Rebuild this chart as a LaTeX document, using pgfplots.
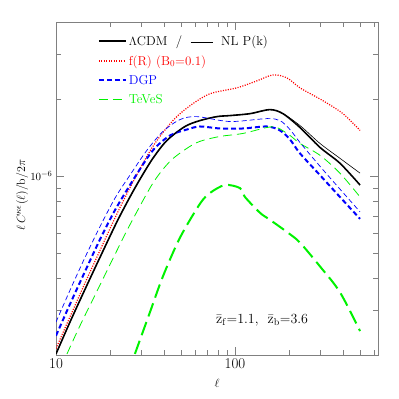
\documentclass[border=0pt]{standalone}
\usepackage{pgfplots}
\pgfplotsset{compat=1.18}
\definecolor{fr}{rgb}{1,0,0}
\definecolor{dgp}{rgb}{0,0,1}
\definecolor{tvs}{rgb}{0,0.95,0}
\begin{document}
\begin{tikzpicture}
\begin{axis}[
  scale only axis, width=322bp, height=333bp,
  xmode=log, ymode=log,
  xmin=10, xmax=630, ymin=2e-7, ymax=4e-6,
  xtick={10,100}, xticklabels={10,100},
  minor xtick={20,30,40,50,60,70,80,90,200,300,400,500,600},
  ytick={1e-6},
  minor ytick={3e-7,4e-7,5e-7,6e-7,7e-7,8e-7,9e-7,2e-6,3e-6,4e-6},
  major tick length=8bp, minor tick length=5bp,
  axis line style={black!50}, tick style={black!50},
  xticklabel style={font=\fontsize{15}{17}\selectfont},
  yticklabel style={font=\fontsize{11}{13}\selectfont},
  xlabel={$\ell$}, ylabel={$\ell\,C^{\kappa\epsilon}(\ell)/\mathrm{b}/2\pi$},
  xlabel style={at={(axis description cs:0.5,-0.085)},anchor=center,font=\fontsize{12}{14}\selectfont},
  ylabel style={at={(axis description cs:-0.105,0.48)},anchor=center,font=\fontsize{12.5}{14}\selectfont},
  legend image code/.code={\draw[#1] (0bp,0bp) -- (27bp,0bp);},
  legend cell align=left,
  legend style={at={(axis description cs:0.12,0.972)},anchor=north west,draw=none,fill=none,
    font=\fontsize{13}{15}\selectfont,row sep=4.6pt},
]
% LCDM linear (thick)
\addplot[black, line width=1.6pt, smooth] coordinates {
(10,2.02e-7) (11.97,2.69e-7) (14.52,3.61e-7) (17.6,4.81e-7) (21.9,6.63e-7)
(25.9,8.29e-7) (29.5,9.74e-7) (34.8,1.174e-6) (41.7,1.379e-6) (52.6,1.563e-6)
(63.7,1.648e-6) (79.3,1.708e-6) (93.8,1.724e-6) (121.3,1.754e-6) (156.9,1.819e-6)
(185.4,1.754e-6) (230.7,1.549e-6) (298.5,1.295e-6) (386.0,1.123e-6) (500,9.23e-7)};
\addlegendentry{$\Lambda$CDM\ \ /\ \ \rule[0.55ex]{22bp}{0.5pt}\ \ NL P(k)}
% f(R)
\addplot[fr, line width=1.2pt, dash pattern=on 1.1pt off 1.4pt, smooth] coordinates {
(10,2.12e-7) (11.97,2.82e-7) (14.52,3.82e-7) (17.6,5.12e-7) (21.9,7.12e-7)
(26.9,9.48e-7) (34.8,1.307e-6) (45.0,1.648e-6) (56.1,1.884e-6) (72.5,2.098e-6)
(102.6,2.213e-6) (132.7,2.356e-6) (163.1,2.485e-6) (195.2,2.420e-6) (230.7,2.213e-6)
(310.2,1.971e-6) (401.2,1.754e-6) (500,1.508e-6)};
\addlegendentry{\textcolor{fr}{f(R) (B$_0$=0.1)}}
% DGP (thick)
\addplot[dgp, line width=2pt, dash pattern=on 5pt off 3pt, smooth] coordinates {
(10,2.38e-7) (11.97,3.16e-7) (14.52,4.24e-7) (17.6,5.65e-7) (21.4,7.38e-7)
(27.6,9.91e-7) (34.8,1.261e-6) (43.4,1.442e-6) (53.9,1.521e-6) (63.7,1.563e-6)
(82.5,1.535e-6) (110.8,1.535e-6) (151.0,1.563e-6) (178.4,1.508e-6) (202.9,1.391e-6)
(230.7,1.228e-6) (298.5,1.009e-6) (386.0,8.29e-7) (500,6.81e-7)};
\addlegendentry{\textcolor{dgp}{DGP}}
% TeVeS (thin)
\addplot[tvs, line width=0.8pt, dash pattern=on 9pt off 5pt, smooth] coordinates {
(11.52,2.02e-7) (13.6,2.60e-7) (17.6,3.75e-7) (21.9,5.12e-7) (25.9,6.46e-7)
(34.8,9.39e-7) (43.4,1.143e-6) (53.9,1.284e-6) (63.7,1.367e-6) (82.5,1.429e-6)
(110.8,1.468e-6) (151.0,1.549e-6) (171.6,1.549e-6) (202.9,1.442e-6) (230.7,1.342e-6)
(298.5,1.206e-6) (386.0,1.027e-6) (500,8.29e-7)};
\addlegendentry{\textcolor{tvs}{TeVeS}}
% LCDM non-linear P(k) (thin)
\addplot[black, line width=0.6pt, smooth, forget plot] coordinates {
(10,2.02e-7) (11.97,2.69e-7) (14.52,3.61e-7) (17.6,4.81e-7) (21.9,6.63e-7)
(25.9,8.29e-7) (29.5,9.74e-7) (34.8,1.174e-6) (41.7,1.379e-6) (52.6,1.563e-6)
(63.7,1.648e-6) (79.3,1.708e-6) (93.8,1.724e-6) (121.3,1.754e-6) (156.9,1.819e-6)
(185.4,1.754e-6) (230.7,1.577e-6) (298.5,1.342e-6) (386.0,1.174e-6) (500,1.027e-6)};
% DGP (thin)
\addplot[dgp, line width=0.7pt, dash pattern=on 5pt off 3pt, smooth, forget plot] coordinates {
(10,2.69e-7) (11.97,3.58e-7) (14.52,4.81e-7) (17.6,6.34e-7) (21.4,8.22e-7)
(25.9,1.009e-6) (32.2,1.261e-6) (39.6,1.494e-6) (49.3,1.663e-6) (61.3,1.708e-6)
(93.8,1.634e-6) (151.0,1.678e-6) (178.4,1.648e-6) (202.9,1.521e-6) (230.7,1.354e-6)
(298.5,1.093e-6) (386.0,8.90e-7) (500,7.25e-7)};
% TeVeS (thick)
\addplot[tvs, line width=2pt, dash pattern=on 14pt off 6pt, smooth, forget plot] coordinates {
(27.6,2.02e-7) (33.5,2.94e-7) (39.6,4.06e-7) (49.3,5.75e-7) (63.7,7.79e-7)
(72.5,8.59e-7) (87.9,9.23e-7) (106.6,8.98e-7) (113.7,8.29e-7) (138.0,7.19e-7)
(156.9,6.75e-7) (197.8,6.01e-7) (230.7,5.50e-7) (298.5,4.44e-7) (386.0,3.52e-7)
(500,2.48e-7)};
\node[font=\fontsize{14}{16}\selectfont] at (rel axis cs:0.64,0.105)
  {$\bar{\mathrm{z}}_{\mathrm{f}}$=1.1,\ \ $\bar{\mathrm{z}}_{\mathrm{b}}$=3.6};
\end{axis}
\path ([xshift=-56bp,yshift=-44bp]current axis.south west) rectangle ([xshift=21bp,yshift=22bp]current axis.north east);
\end{tikzpicture}
\end{document}
